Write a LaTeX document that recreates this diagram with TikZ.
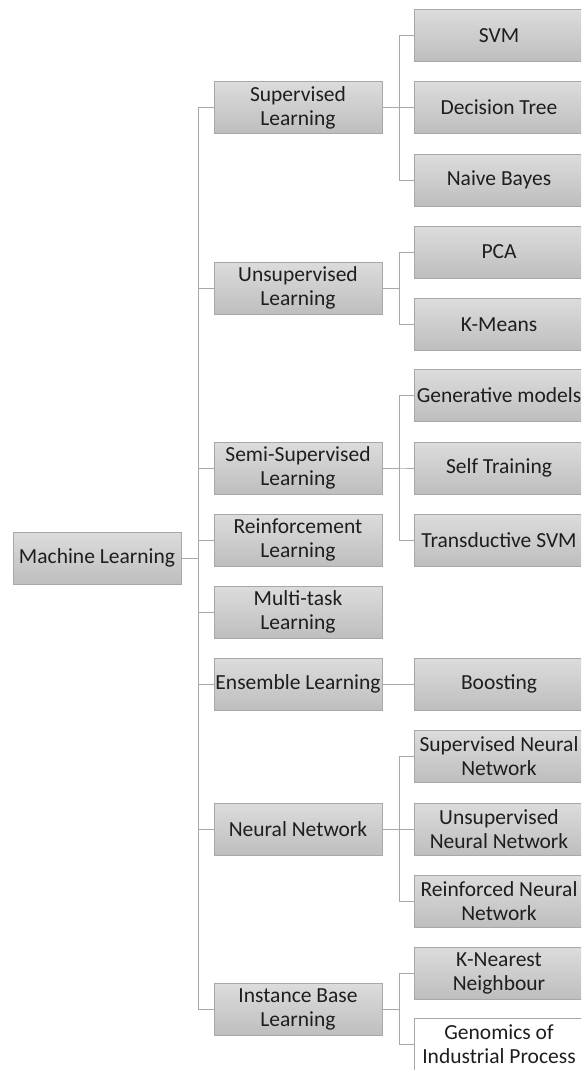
\documentclass[tikz,border=0pt]{standalone}
\usepackage{fontspec}
\setmainfont{Carlito}
\usepackage{xcolor}
\definecolor{Col1}{RGB}{220,220,220}
\definecolor{Col2}{RGB}{190,190,190}
\definecolor{Col3}{RGB}{168,168,168}
\definecolor{Col4}{RGB}{30,30,30}
\usepackage{tikz}
\tikzstyle{Box}=[rectangle,draw=Col3,top color=Col1,bottom color=Col2,
minimum width=168pt,minimum height=52pt,inner sep=1pt,align=center,
text=Col4,font=\fontsize{21.5}{24}\selectfont]
\tikzstyle{Leaf}=[Box,minimum width=170pt]
\tikzstyle{Edge}=[draw=Col3,line width=1pt]

\begin{document}
\begin{tikzpicture}[x=1pt,y=-1pt]
            \useasboundingbox(0,0)rectangle(581,1070);
            \clip(0,0)rectangle(581,1070);
            \node[Box](ML)at(97,558){Machine Learning};
            %
            \node[Box](SL)at(298,107.5){Supervised\\Learning};
            \node[Box](UL)at(298,288){Unsupervised\\Learning};
            \node[Box](SS)at(298,468){Semi-Supervised\\Learning};
            \node[Box](RL)at(298,540){Reinforcement\\Learning};
            \node[Box](MT)at(298,612){Multi-task\\Learning};
            \node[Box](EL)at(298,684){Ensemble Learning};
            \node[Box](NN)at(298,829){Neural Network};
            \node[Box](IB)at(298,1009.5){Instance Base\\Learning};
            %
            \node[Leaf](SVM)at(499,35.5){SVM};
            \node[Leaf](DT)at(499,107.5){Decision Tree};
            \node[Leaf](NB)at(499,180){Naive Bayes};
            \node[Leaf](PCA)at(499,252){PCA};
            \node[Leaf](KM)at(499,324.5){K-Means};
            \node[Leaf](GM)at(499,395.5){Generative models};
            \node[Leaf](ST)at(499,468){Self Training};
            \node[Leaf](TS)at(499,540){Transductive SVM};
            \node[Leaf](BO)at(499,684){Boosting};
            \node[Leaf](SN)at(499,756){Supervised Neural\\Network};
            \node[Leaf](UN)at(499,829){Unsupervised\\Neural Network};
            \node[Leaf](RN)at(499,901){Reinforced Neural\\Network};
            \node[Leaf](KN)at(499,973){K-Nearest\\Neighbour};
            \node[Leaf,fill=white,top color=white,bottom color=white]
                (GI)at(499,1044){Genomics of\\Industrial Process};
            %
            \foreach \m in {SL,UL,SS,RL,MT,EL,NN,IB}
                \draw[Edge](ML.east)--++(17,0)|-(\m.west);
            \foreach \l in {SVM,DT,NB}
                \draw[Edge](SL.east)--++(17,0)|-(\l.west);
            \foreach \l in {PCA,KM}
                \draw[Edge](UL.east)--++(17,0)|-(\l.west);
            \foreach \l in {GM,ST,TS}
                \draw[Edge](SS.east)--++(17,0)|-(\l.west);
            \draw[Edge](EL)--(BO);
            \foreach \l in {SN,UN,RN}
                \draw[Edge](NN.east)--++(17,0)|-(\l.west);
            \foreach \l in {KN,GI}
                \draw[Edge](IB.east)--++(17,0)|-(\l.west);
        \end{tikzpicture}
\end{document}
